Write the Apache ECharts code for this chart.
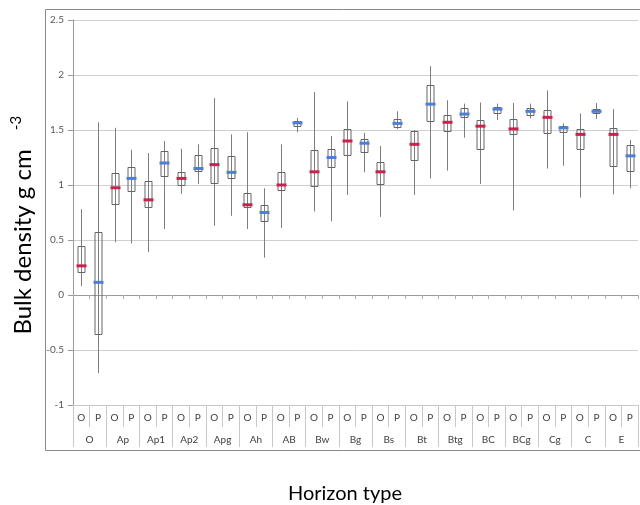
<!DOCTYPE html>
<html><head><meta charset="utf-8">
<script src="https://cdn.jsdelivr.net/npm/echarts@6/dist/echarts.min.js"></script>
<style>html,body{margin:0;padding:0;background:#fff}#c{width:640px;height:505px}</style>
</head><body><div id="c"></div>
<script>
// Horizon groups and sub-categories
const horizons = ['O','Ap','Ap1','Ap2','Apg','Ah','AB','Bw','Bg','Bs','Bt','Btg','BC','BCg','Cg','C','E'];
const types = ['O','P'];
// Box plot statistics, ordered O,P for each horizon
const whiskerLow = [0.08,-0.71, 0.48,0.47, 0.39,0.60, 0.92,1.01, 0.63,0.72, 0.60,0.34, 0.61,1.48, 0.76,0.67, 0.91,1.115, 0.71,1.51, 0.91,1.06, 1.13,1.43, 1.01,1.59, 0.77,1.605, 1.15,1.175, 0.885,1.60, 0.915,0.97];
const quart1 = [0.215,-0.36, 0.83,0.94, 0.80,1.08, 1.005,1.12, 1.02,1.06, 0.80,0.67, 0.95,1.53, 0.99,1.165, 1.27,1.30, 1.005,1.53, 1.23,1.58, 1.49,1.62, 1.33,1.65, 1.46,1.635, 1.47,1.48, 1.325,1.65, 1.17,1.125];
const median = [0.265,0.115, 0.975,1.06, 0.865,1.20, 1.06,1.15, 1.185,1.115, 0.82,0.75, 1.00,1.565, 1.12,1.25, 1.40,1.38, 1.12,1.56, 1.37,1.735, 1.57,1.645, 1.535,1.69, 1.51,1.67, 1.615,1.52, 1.46,1.67, 1.46,1.265];
const quart3 = [0.45,0.57, 1.11,1.16, 1.04,1.31, 1.12,1.27, 1.34,1.26, 0.93,0.815, 1.115,1.58, 1.315,1.33, 1.51,1.415, 1.205,1.60, 1.49,1.905, 1.635,1.70, 1.59,1.705, 1.60,1.70, 1.68,1.535, 1.505,1.69, 1.515,1.365];
const whiskerHigh = [0.78,1.57, 1.52,1.32, 1.29,1.40, 1.33,1.37, 1.79,1.46, 1.48,0.97, 1.37,1.61, 1.845,1.445, 1.76,1.475, 1.355,1.67, 1.50,2.08, 1.77,1.74, 1.75,1.74, 1.745,1.74, 1.86,1.56, 1.65,1.745, 1.69,1.41];
const yTicks = {min:-1, max:2.5, interval:0.5};

const subCats = [];
horizons.forEach(h => types.forEach(t => subCats.push(t)));
const boxData = subCats.map((c,i)=>[i, whiskerLow[i], quart1[i], median[i], quart3[i], whiskerHigh[i]]);

const FONT = 'Lato, "Open Sans", sans-serif';
const chart = echarts.init(document.getElementById('c'), null, {renderer:'canvas'});
chart.setOption({
  animation:false,
  backgroundColor:'#fff',
  grid:{left:73, right:2, top:20, bottom:100, containLabel:false},
  xAxis:[
    {type:'category', data:subCats, position:'bottom', gridIndex:0,
     axisLine:{show:true, onZero:false, lineStyle:{color:'#c8c8c8'}},
     axisTick:{show:true, interval:0, length:22, lineStyle:{color:'#c8c8c8'}},
     axisLabel:{interval:0, margin:8, fontSize:10, color:'#404040', fontFamily:FONT},
     splitLine:{show:false}},
    {type:'category', data:horizons, position:'bottom', gridIndex:0, offset:0,
     axisLine:{show:false, onZero:false},
     axisTick:{show:true, interval:0, length:42, lineStyle:{color:'#c8c8c8'}},
     axisLabel:{interval:0, margin:30, fontSize:10, color:'#404040', fontFamily:FONT},
     splitLine:{show:false}},
    {type:'category', data:subCats, position:'bottom', gridIndex:0,
     axisLine:{show:true, onZero:true, lineStyle:{color:'#9a9a9a'}},
     axisTick:{show:true, interval:0, length:4, lineStyle:{color:'#b0b0b0'}},
     axisLabel:{show:false}, splitLine:{show:false}}
  ],
  yAxis:{type:'value', min:yTicks.min, max:yTicks.max, interval:yTicks.interval,
    axisLine:{show:true, lineStyle:{color:'#9a9a9a'}},
    axisTick:{show:true, length:5, lineStyle:{color:'#9a9a9a'}},
    axisLabel:{margin:9, fontSize:10, color:'#595959', fontFamily:FONT},
    splitLine:{show:true, lineStyle:{color:'#cfcfcf'}}},
  graphic:[
    {type:'rect', silent:true, z:-10, shape:{x:45.5, y:9.5, width:700, height:441}, style:{fill:'none', stroke:'#8a8a8a', lineWidth:1}},
    {type:'text', x:23, y:242, rotation:Math.PI/2, style:{text:'Bulk density g cm', fontSize:24, fontFamily:FONT, fill:'#000', align:'center', verticalAlign:'middle'}},
    {type:'text', x:16, y:123, rotation:Math.PI/2, style:{text:'-3', fontSize:15, fontFamily:FONT, fill:'#000', align:'center', verticalAlign:'middle'}},
    {type:'text', x:345, y:494, style:{text:'Horizon type', fontSize:20, fontFamily:FONT, fill:'#000', align:'center', verticalAlign:'middle'}}
  ],
  series:[{
    type:'custom', xAxisIndex:0, yAxisIndex:0,
    encode:{x:0, y:[1,2,3,4,5]},
    data:boxData,
    renderItem:function(params, api){
      const x = api.value(0);
      const lo = api.coord([x, api.value(1)]);
      const q1 = api.coord([x, api.value(2)]);
      const md = api.coord([x, api.value(3)]);
      const q3 = api.coord([x, api.value(4)]);
      const hi = api.coord([x, api.value(5)]);
      const cx = Math.round(lo[0]) + 0.5;
      const bw = 7, mw = 10;
      const isO = subCats[x] === 'O';
      return {type:'group', children:[
        {type:'line', shape:{x1:cx, y1:hi[1], x2:cx, y2:lo[1]}, style:{stroke:'#7d7d7d', lineWidth:1}},
        {type:'rect', shape:{x:cx-bw/2, y:Math.round(q3[1])+0.5, width:bw, height:Math.round(q1[1]-q3[1])}, style:{fill:'none', stroke:'#666', lineWidth:1}},
        {type:'line', shape:{x1:cx-mw/2, y1:md[1], x2:cx+mw/2, y2:md[1]}, style:{stroke:isO?'#c8234f':'#4d7fd6', lineWidth:3}}
      ]};
    }
  }]
});
</script></body></html>
